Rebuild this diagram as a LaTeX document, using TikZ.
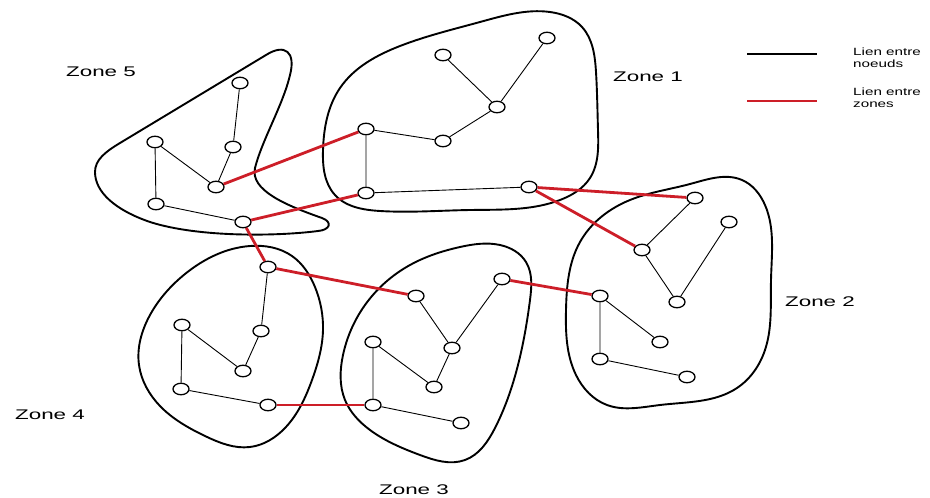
\documentclass[tikz,border=0pt]{standalone}
\usepackage{fontspec}
\setmainfont{Liberation Sans}
\usepackage{graphicx}
\usetikzlibrary{shapes.geometric,hobby}
\definecolor{linkred}{RGB}{205,30,40}
\tikzset{
  nd/.style={ellipse,draw,line width=1.3pt,fill=white,minimum width=16pt,minimum height=11.5pt,inner sep=0pt},
  zoneplain/.style={line width=1.9pt,black},
  zoneline/.style={zoneplain,use Hobby shortcut,closed=true},
  intra/.style={line width=0.9pt,black},
  inter/.style={line width=2.8pt,linkred},
  zl/.style={font=\fontsize{14}{16}\selectfont,inner sep=0pt},
  legtxt/.style={font=\fontsize{10.5}{13}\selectfont,inner sep=0pt,anchor=west}
}
\begin{document}
\begin{tikzpicture}[x=1pt,y=-1pt]
\useasboundingbox[fill=white] (0,0) rectangle (930,498);
% zone outlines
\draw[zoneplain] (95,172) .. controls (95,160) and (105,152) .. (120,143)
  -- (266,55) .. controls (285,43) and (296,52) .. (290,75)
  .. controls (283,105) and (262,140) .. (255,168)
  .. controls (250,190) and (285,205) .. (322,218)
  .. controls (333,222) and (330,230) .. (318,231)
  .. controls (280,236) and (200,238) .. (150,222)
  .. controls (115,210) and (95,192) .. cycle;
\draw[zoneline] (323,150) .. (340,88) .. (400,46) .. (480,22) .. (550,12) .. (582,27) .. (596,72) .. (598,130) .. (590,178) .. (560,200) .. (470,210) .. (380,211) .. (335,195);
\draw[zoneline] (690,184) .. (742,180) .. (765,205) .. (771,280) .. (765,350) .. (737,388) .. (660,405) .. (607,405) .. (576,375) .. (566,310) .. (580,242) .. (630,200);
\draw[zoneline] (250,246) .. (292,256) .. (315,287) .. (323,330) .. (312,380) .. (285,428) .. (250,447) .. (205,436) .. (160,406) .. (139,365) .. (150,315) .. (185,274);
\draw[zoneline] (460,247) .. (500,245) .. (526,262) .. (530,300) .. (518,365) .. (495,428) .. (465,460) .. (420,455) .. (370,430) .. (345,400) .. (343,355) .. (365,305) .. (410,265);
% nodes zone 5
\node[nd] (a) at (240,83) {};
\node[nd] (b) at (233,147) {};
\node[nd] (c) at (155,142) {};
\node[nd] (d) at (216,187) {};
\node[nd] (e) at (156,204) {};
\node[nd] (f) at (243,222) {};
% zone 1
\node[nd] (g) at (443,55) {};
\node[nd] (h) at (547,38) {};
\node[nd] (i) at (497,107) {};
\node[nd] (j) at (443,141) {};
\node[nd] (k) at (366,129) {};
\node[nd] (l) at (366,193) {};
\node[nd] (m) at (529,187) {};
% zone 2
\node[nd] (n) at (695,198) {};
\node[nd] (o) at (729,222) {};
\node[nd] (p) at (642,250) {};
\node[nd] (q) at (677,302) {};
\node[nd] (r) at (600,296) {};
\node[nd] (s) at (660,342) {};
\node[nd] (t) at (600,359) {};
\node[nd] (u) at (687,377) {};
% zone 4
\node[nd] (v) at (268,267) {};
\node[nd] (w) at (261,331) {};
\node[nd] (x) at (182,325) {};
\node[nd] (y) at (243,371) {};
\node[nd] (z) at (181,389) {};
\node[nd] (aa) at (268,405) {};
% zone 3
\node[nd] (ab) at (502,279) {};
\node[nd] (ac) at (416,296) {};
\node[nd] (ad) at (452,348) {};
\node[nd] (ae) at (373,342) {};
\node[nd] (af) at (434,387) {};
\node[nd] (ag) at (373,405) {};
\node[nd] (ah) at (461,423) {};
% intra-zone links
\draw[intra] (a) -- (b) -- (d) -- (c) -- (e) -- (f);
\draw[intra] (g) -- (i) -- (h);
\draw[intra] (i) -- (j) -- (k) -- (l) -- (m);
\draw[intra] (n) -- (p) -- (q) -- (o);
\draw[intra] (s) -- (r) -- (t) -- (u);
\draw[intra] (v) -- (w) -- (y) -- (x) -- (z) -- (aa);
\draw[intra] (ac) -- (ad) -- (ab);
\draw[intra] (ad) -- (af) -- (ae) -- (ag) -- (ah);
% inter-zone links
\draw[inter] (d) -- (k);
\draw[inter] (f) -- (l);
\draw[inter] (f) -- (v);
\draw[inter] (v) -- (ac);
\draw[inter] (m) -- (n);
\draw[inter] (m) -- (p);
\draw[inter] (ab) -- (r);
\draw[inter] (aa) -- (ag);
% labels
\node[zl] (lz5) at (101,72) {\scalebox{1.6}[1]{Zone 5}};
\node[zl] (lz1) at (648,77) {\scalebox{1.6}[1]{Zone 1}};
\node[zl] (lz2) at (820,302) {\scalebox{1.6}[1]{Zone 2}};
\node[zl] (lz4) at (50,415) {\scalebox{1.6}[1]{Zone 4}};
\node[zl] (lz3) at (414,490) {\scalebox{1.6}[1]{Zone 3}};
% legend
\coordinate (lb1) at (747,54);
\coordinate (lb2) at (817,54);
\coordinate (lr1) at (747,101);
\coordinate (lr2) at (817,101);
\draw[line width=1.4pt] (lb1) -- (lb2);
\draw[inter] (lr1) -- (lr2);
\node[legtxt] (t1a) at (853,52) {\scalebox{1.45}[1]{Lien entre}};
\node[legtxt] (t1b) at (853,64) {\scalebox{1.45}[1]{noeuds}};
\node[legtxt] (t2a) at (853,92) {\scalebox{1.45}[1]{Lien entre}};
\node[legtxt] (t2b) at (853,105) {\scalebox{1.45}[1]{zones}};
\end{tikzpicture}
\end{document}
